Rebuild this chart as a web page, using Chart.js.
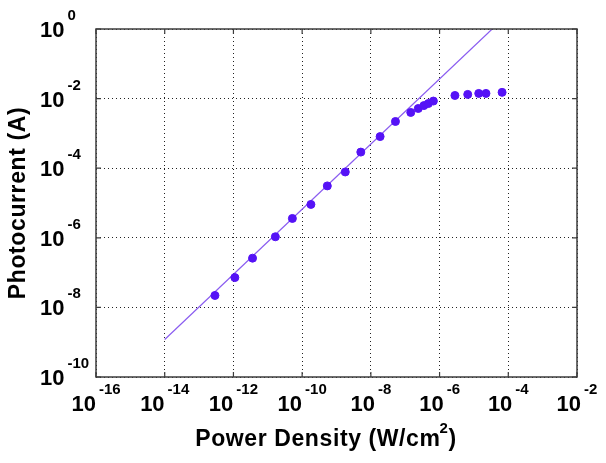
<!DOCTYPE html>
<html>
<head>
<meta charset="utf-8">
<script src="https://cdn.jsdelivr.net/npm/chart.js@4/dist/chart.umd.min.js"></script>
<style>
  html, body { margin: 0; padding: 0; background: #fff; }
  #wrap { width: 606px; height: 463px; position: relative; }
</style>
</head>
<body>
<div id="wrap"><canvas id="c" width="606" height="463"></canvas></div>
<script>
// ---- data ----
const powerDensity = [2.9e-13, 1.1e-12, 3.6e-12, 1.66e-11, 5.2e-11, 1.8e-10, 5.4e-10, 1.8e-9, 5.1e-9,
  1.86e-8, 5.2e-8, 1.45e-7, 2.4e-7, 3.5e-7, 4.7e-7, 6.6e-7, 2.8e-6, 6.6e-6, 1.38e-5, 2.24e-5, 6.6e-5];
const photocurrent = [2.2e-8, 7.2e-8, 2.6e-7, 1.07e-6, 3.6e-6, 9.1e-6, 3.1e-5, 7.8e-5, 2.9e-4,
  8.1e-4, 2.2e-3, 4.0e-3, 5.2e-3, 6.3e-3, 7.2e-3, 8.5e-3, 1.23e-2, 1.32e-2, 1.41e-2, 1.41e-2, 1.51e-2];
const fitX = [1e-14, 3.4e-5];
const fitY = [1.2e-9, 1.0];
const xTickExps = [-16, -14, -12, -10, -8, -6, -4, -2];
const yTickExps = [-10, -8, -6, -4, -2, 0];
const xTitle = ['Power Density (W/cm', '2', ')'];
const yTitle = 'Photocurrent (A)';

const FONT = '"Liberation Sans", Arial, Helvetica, sans-serif';

const measured = powerDensity.map((v, i) => ({ x: v, y: photocurrent[i] }));
const fit = fitX.map((v, i) => ({ x: v, y: fitY[i] }));

function drawPow(ctx, exp, x, baseline, align) {
  ctx.font = 'bold 22px ' + FONT;
  const w1 = ctx.measureText('10').width;
  ctx.font = 'bold 15px ' + FONT;
  const s = String(exp);
  const w2 = ctx.measureText(s).width;
  const gap = 3;
  const total = w1 + gap + w2;
  const start = align === 'center' ? x - total / 2 : x;
  ctx.textAlign = 'left';
  ctx.textBaseline = 'alphabetic';
  ctx.font = 'bold 22px ' + FONT;
  ctx.fillText('10', start, baseline);
  ctx.font = 'bold 15px ' + FONT;
  ctx.fillText(s, start + w1 + gap, baseline - 17);
}

const decor = {
  id: 'decor',
  afterDraw(chart) {
    const { ctx, chartArea: { left, right, top, bottom }, scales: { x, y } } = chart;
    ctx.save();
    // frame and inward ticks
    ctx.strokeStyle = '#3c3c3c';
    ctx.lineWidth = 1.5;
    ctx.setLineDash([]);
    ctx.strokeRect(left, top, right - left, bottom - top);
    ctx.lineWidth = 1.2;
    ctx.beginPath();
    x.ticks.forEach(t => {
      const px = x.getPixelForValue(t.value);
      ctx.moveTo(px, bottom); ctx.lineTo(px, bottom - 5);
      ctx.moveTo(px, top); ctx.lineTo(px, top + 5);
    });
    y.ticks.forEach(t => {
      const py = y.getPixelForValue(t.value);
      ctx.moveTo(left, py); ctx.lineTo(left + 5, py);
      ctx.moveTo(right, py); ctx.lineTo(right - 5, py);
    });
    ctx.stroke();

    // tick labels
    ctx.fillStyle = '#000';
    x.ticks.forEach(t => {
      const px = x.getPixelForValue(t.value);
      drawPow(ctx, Math.round(Math.log10(t.value)), px, 411, 'center');
    });
    y.ticks.forEach(t => {
      const py = y.getPixelForValue(t.value);
      drawPow(ctx, Math.round(Math.log10(t.value)), 40, py + 8, 'left');
    });

    // x title with superscript
    ctx.letterSpacing = '0.6px';
    ctx.font = 'bold 23px ' + FONT;
    const a = ctx.measureText(xTitle[0]).width;
    const c = ctx.measureText(xTitle[2]).width;
    ctx.font = 'bold 15px ' + FONT;
    const b = ctx.measureText(xTitle[1]).width;
    const tot = a + b + c - 1;
    let sx = 326 - tot / 2;
    ctx.textAlign = 'left';
    ctx.textBaseline = 'alphabetic';
    ctx.font = 'bold 23px ' + FONT;
    ctx.fillText(xTitle[0], sx, 446);
    ctx.font = 'bold 15px ' + FONT;
    ctx.fillText(xTitle[1], sx + a - 1, 433);
    ctx.font = 'bold 23px ' + FONT;
    ctx.fillText(xTitle[2], sx + a + b - 1, 446);

    // y title
    ctx.translate(25, (top + bottom) / 2);
    ctx.rotate(-Math.PI / 2);
    ctx.textAlign = 'center';
    ctx.font = 'bold 23px ' + FONT;
    ctx.fillText(yTitle, 0, 0);
    ctx.restore();
  }
};

new Chart(document.getElementById('c'), {
  type: 'scatter',
  data: {
    datasets: [
      {
        type: 'line',
        label: 'Fit',
        data: fit,
        borderColor: '#8a5cf0',
        borderWidth: 1.2,
        pointRadius: 0,
        fill: false,
        order: 2
      },
      {
        label: 'Photocurrent',
        data: measured,
        backgroundColor: '#5512f6',
        borderColor: '#5512f6',
        pointRadius: 4,
        pointHoverRadius: 4,
        order: 1
      }
    ]
  },
  options: {
    responsive: false,
    animation: false,
    events: [],
    layout: { padding: { top: 29, right: 29, left: 0, bottom: 0 } },
    plugins: { legend: { display: false }, tooltip: { enabled: false } },
    scales: {
      x: {
        type: 'logarithmic',
        min: 1e-16,
        max: 1e-2,
        afterBuildTicks: s => { s.ticks = xTickExps.map(e => ({ value: Math.pow(10, e) })); },
        afterFit: s => { s.height = 86; },
        ticks: { display: false },
        grid: { color: '#222', lineWidth: 1, drawTicks: false },
        border: { display: false, dash: [1, 3] },
        title: { display: false }
      },
      y: {
        type: 'logarithmic',
        min: 1e-10,
        max: 1,
        afterBuildTicks: s => { s.ticks = yTickExps.map(e => ({ value: Math.pow(10, e) })); },
        afterFit: s => { s.width = 96; },
        ticks: { display: false },
        grid: { color: '#222', lineWidth: 1, drawTicks: false },
        border: { display: false, dash: [1, 3] },
        title: { display: false }
      }
    }
  },
  plugins: [decor]
});
</script>
</body>
</html>
